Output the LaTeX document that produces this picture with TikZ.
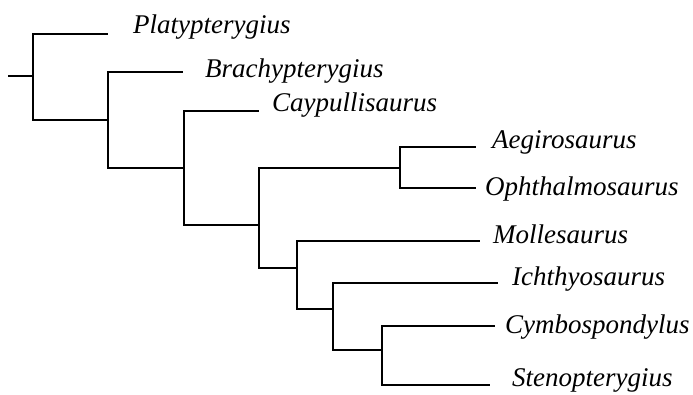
\documentclass[tikz,border=0pt]{standalone}
\usepackage{fontspec}
\setmainfont{Liberation Serif}
\begin{document}
\begin{tikzpicture}[x=1pt,y=-1pt,
  branch/.style={draw=black,line width=1.8pt},
  taxon/.style={anchor=base west,inner sep=0pt,font=\fontsize{27}{32}\selectfont\itshape}]
\useasboundingbox (0,0) rectangle (693,394);
% internal nodes of the tree
\coordinate (root) at (8,76);
\coordinate (n1) at (33,76);
\coordinate (n2) at (108,120);
\coordinate (n3) at (184,168);
\coordinate (n4) at (259,225);
\coordinate (n5) at (400,168);
\coordinate (n6) at (297,268);
\coordinate (n7) at (333,309);
\coordinate (n8) at (382,350);
% branch tips
\coordinate (tPla) at (108,34);
\coordinate (tBra) at (183,72);
\coordinate (tCay) at (259,111);
\coordinate (tAeg) at (476,147);
\coordinate (tOph) at (476,188);
\coordinate (tMol) at (480,241);
\coordinate (tIch) at (498,283);
\coordinate (tCym) at (495,326);
\coordinate (tSte) at (490,385);
% taxon labels
\node[taxon] (Pla) at (133,33) {Platypterygius};
\node[taxon] (Bra) at (205,77) {Brachypterygius};
\node[taxon] (Cay) at (272,111) {Caypullisaurus};
\node[taxon] (Aeg) at (492,148) {Aegirosaurus};
\node[taxon] (Oph) at (485,195) {Ophthalmosaurus};
\node[taxon] (Mol) at (493,243) {Mollesaurus};
\node[taxon] (Ich) at (512,285) {Ichthyosaurus};
\node[taxon] (Cym) at (505,333) {Cymbospondylus};
\node[taxon] (Ste) at (512,386) {Stenopterygius};
% branches
\draw[branch] (root) -- (n1);
\draw[branch] (n1) |- (tPla);
\draw[branch] (n1) |- (n2);
\draw[branch] (n2) |- (tBra);
\draw[branch] (n2) |- (n3);
\draw[branch] (n3) |- (tCay);
\draw[branch] (n3) |- (n4);
\draw[branch] (n4) |- (n5);
\draw[branch] (n4) |- (n6);
\draw[branch] (n5) |- (tAeg);
\draw[branch] (n5) |- (tOph);
\draw[branch] (n6) |- (tMol);
\draw[branch] (n6) |- (n7);
\draw[branch] (n7) |- (tIch);
\draw[branch] (n7) |- (n8);
\draw[branch] (n8) |- (tCym);
\draw[branch] (n8) |- (tSte);
\end{tikzpicture}
\end{document}
